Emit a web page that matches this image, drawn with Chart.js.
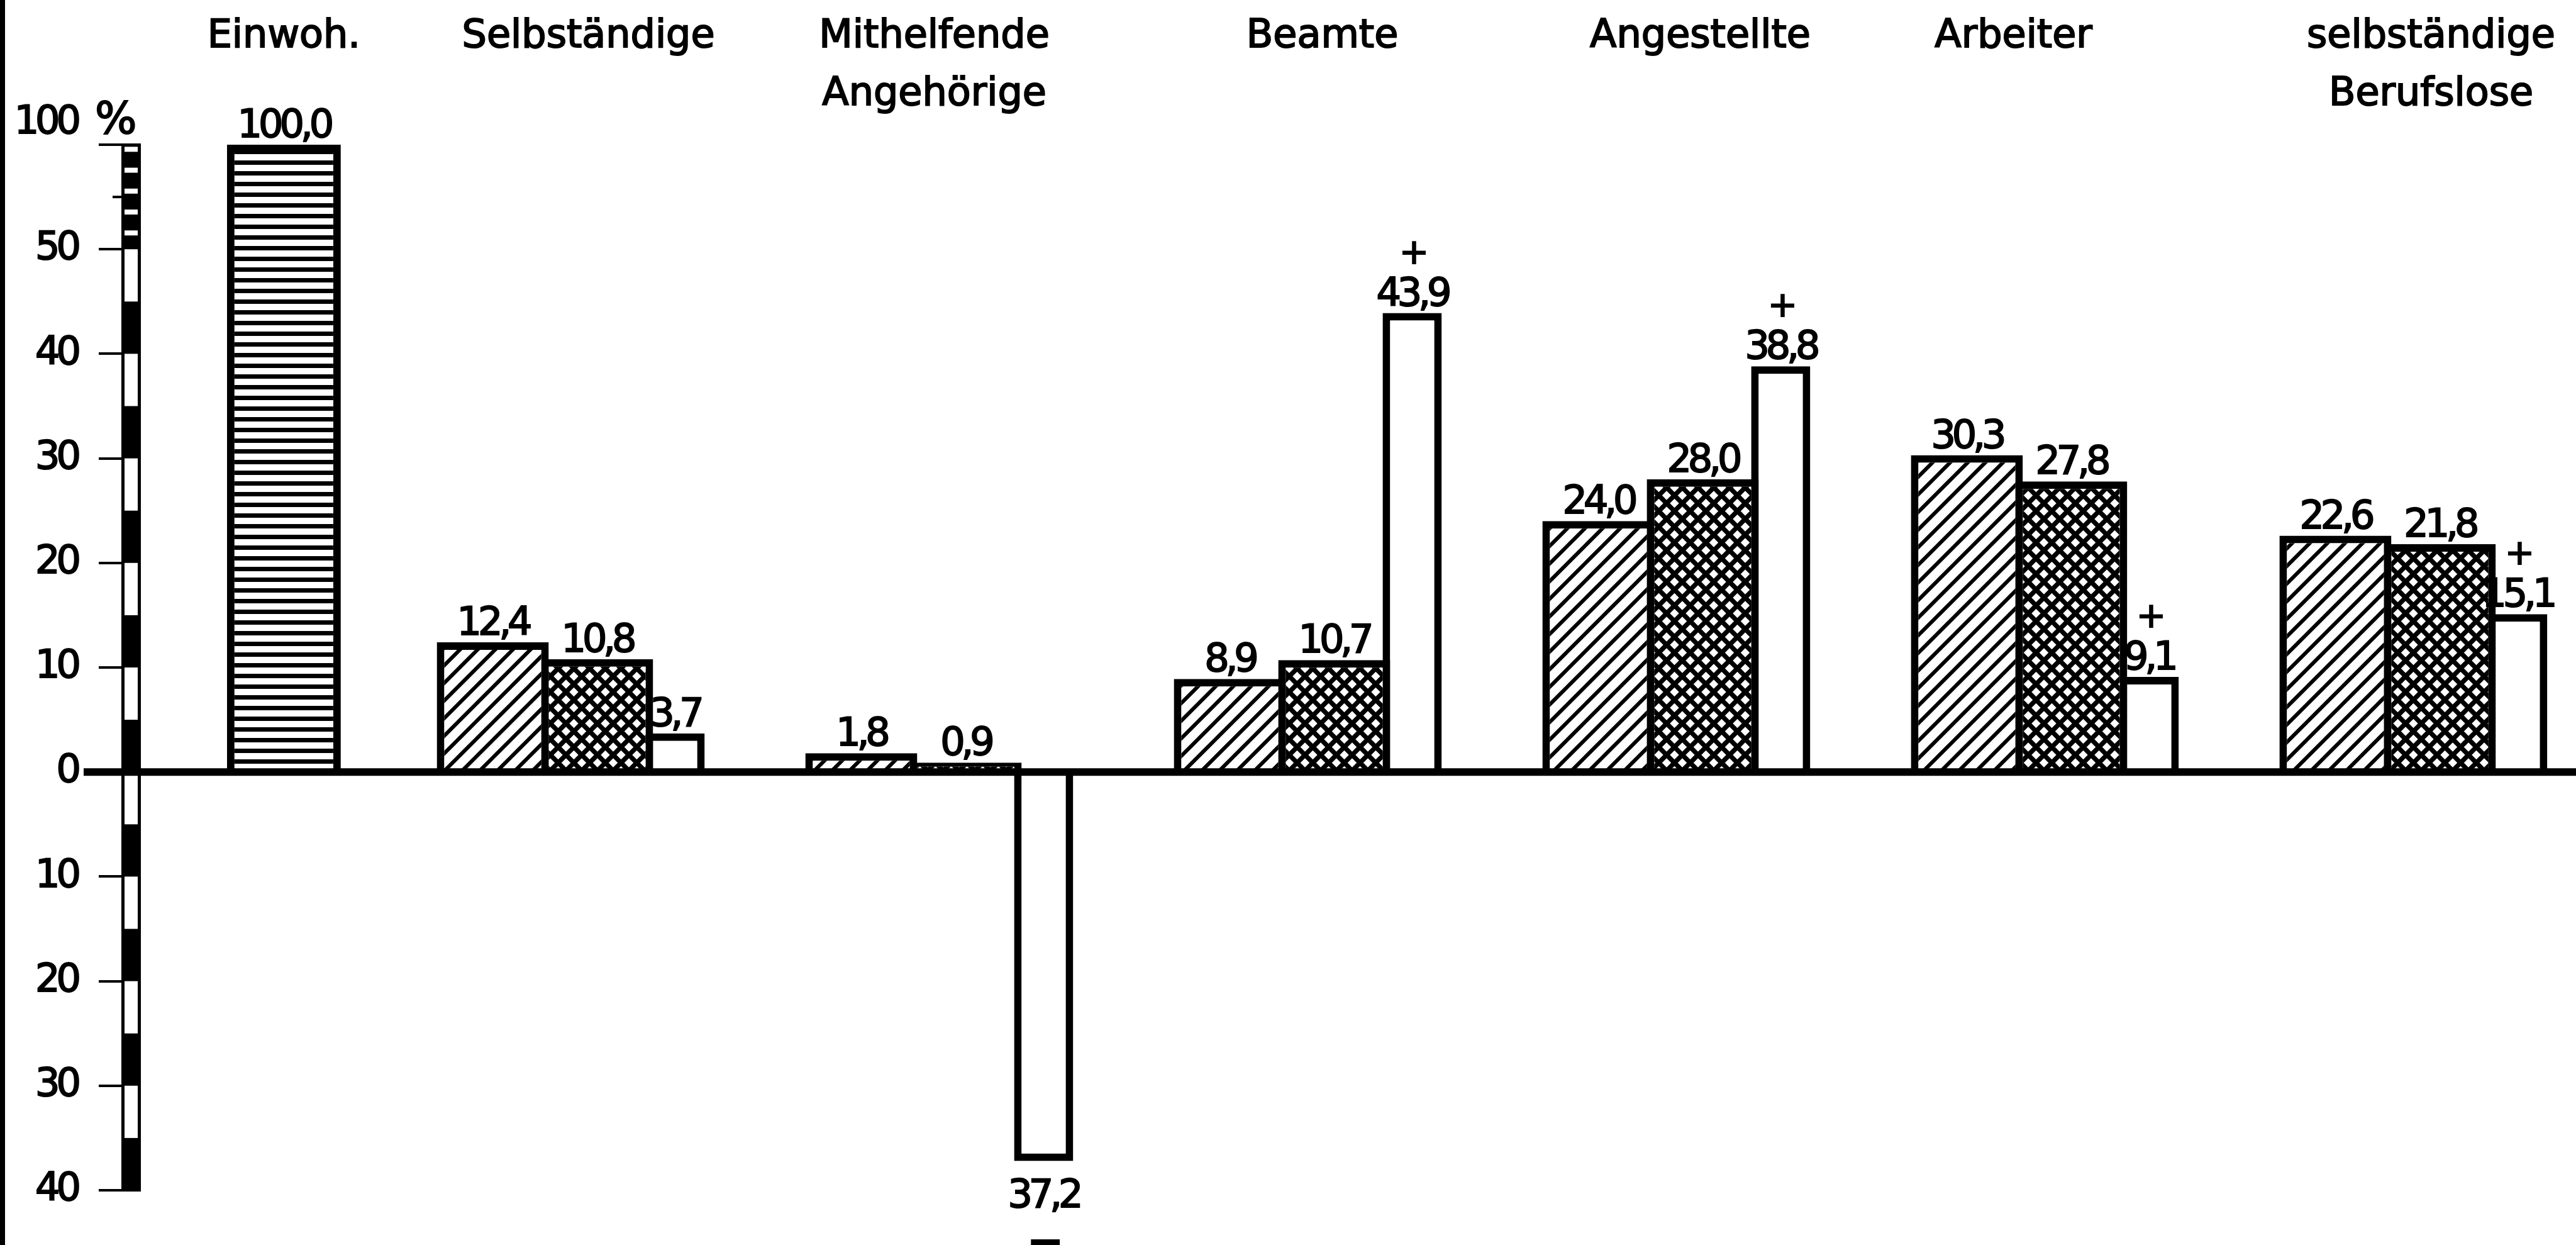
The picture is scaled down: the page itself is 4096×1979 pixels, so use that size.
<!DOCTYPE html>
<html>
<head>
<meta charset="utf-8">
<title>Erwerbspersonen</title>
<script src="https://cdn.jsdelivr.net/npm/chart.js@4.4.1/dist/chart.umd.min.js"></script>
<style>
    html, body { margin: 0; padding: 0; background: #fff; overflow: hidden; }
    canvas { display: block; }
</style>
</head>
<body>
<canvas id="chart" width="4096" height="1979"></canvas>
<script>
// category headings along the top
let categories = [['Einwoh.'], ['Selbständige'], ['Mithelfende', 'Angehörige'], ['Beamte'], ['Angestellte'], ['Arbeiter'], ['selbständige', 'Berufslose']];

// Einwohner (one bar), then per group: hatched, cross-hatched and open bar
let einwohner = [100.0];
let hatched = [12.4, 1.8, 8.9, 24.0, 30.3, 22.6];
let crossed = [10.8, 0.9, 10.7, 28.0, 27.8, 21.8];
let change = [3.7, -37.2, 43.9, 38.8, 9.1, 15.1];
// sign printed next to the open bar
let signs = ['', '\u2212', '+', '+', '+', '+'];

// left scale (50..100 is squeezed into one step)
let yTicks = [100, 50, 40, 30, 20, 10, 0, -10, -20, -30, -40];

let toAxis = v => v > 50 ? 50 + (v - 50) / 5 : v;
let fromAxis = v => v > 50 ? 50 + (v - 50) * 5 : v;

// layout: x axis counts in group steps, group k starts at x = k
let groupPx = 586.1;
let barW = 178, openW = 94, einW = 181, bw = 12;
let off = [barW / 2, barW * 1.5 - bw, barW * 2 - bw * 2 + openW / 2].map(p => p / groupPx);
let einX = 0.585;
let labelOff = 0.367;
let labelNudge = [0, 26, -10, 21, 36, -52, 26];   // px, headings are not quite centred

let ctx = document.getElementById('chart').getContext('2d');

function stripes() {
    let c = document.createElement('canvas');
    c.width = 8; c.height = 17;
    let g = c.getContext('2d');
    g.fillStyle = '#fff'; g.fillRect(0, 0, 8, 17);
    g.fillStyle = '#000'; g.fillRect(0, 0, 8, 7);
    return ctx.createPattern(c, 'repeat');
}

function hatch(p, lw, cross) {
    let c = document.createElement('canvas');
    c.width = p; c.height = p;
    let g = c.getContext('2d');
    g.fillStyle = '#fff'; g.fillRect(0, 0, p, p);
    g.strokeStyle = '#000';
    g.lineWidth = lw;
    g.beginPath();
    for (let k = -1; k <= 1; k++) {
        g.moveTo(k * p - 2, p + 2); g.lineTo(k * p + p + 2, -2);
        if (cross) { g.moveTo(k * p - 2, -2); g.lineTo(k * p + p + 2, p + 2); }
    }
    g.stroke();
    return ctx.createPattern(c, 'repeat');
}

let sources = [einwohner, hatched, crossed, change];

function label(c, txt, x, y) {
    c.strokeText(txt, x, y);
    c.fillText(txt, x, y);
}

let extras = {
    id: 'extras',
    beforeDraw(chart) {
        chart.ctx.letterSpacing = '-6px';
    },
    afterDatasetsDraw(chart) {
        let c = chart.ctx;
        let y = chart.scales.y;
        let right = y.right;
        let zero = y.getPixelForValue(0);
        let py = v => y.getPixelForValue(toAxis(v));

        // black/white scale bar
        let bx = right - 31, bwid = 31, ins = 5;
        c.fillStyle = '#000';
        c.fillRect(bx, py(100), bwid, py(-40) - py(100));
        c.fillStyle = '#fff';
        for (let lo = -40; lo < 50; lo += 5) {
            if (Math.abs(lo / 5) % 2 === 1) {
                c.fillRect(bx + ins, py(lo + 5), bwid - 2 * ins, py(lo) - py(lo + 5));
            }
        }
        for (let t = 100; t > 50; t -= 10) {
            c.fillRect(bx + ins, py(t - 1), bwid - 2 * ins, py(t - 3.4) - py(t - 1));
        }
        c.fillStyle = '#000';
        c.fillRect(right - 45, py(75) - 2, 14, 4);

        // zero line
        c.fillRect(right - 91, zero - 6, chart.width - right + 91, 12);

        // value labels
        c.font = '62px "DejaVu Sans"';
        c.strokeStyle = '#000';
        c.lineWidth = 2;
        c.textAlign = 'center';
        c.textBaseline = 'alphabetic';
        sources.forEach((src, di) => {
            let meta = chart.getDatasetMeta(di);
            meta.data.forEach((bar, i) => {
                let v = src[i];
                let txt = Math.abs(v).toFixed(1).replace('.', ',');
                let sign = di === 3 ? signs[i] : '';
                if (v >= 0) {
                    let base = bar.y - 12;
                    label(c, txt, bar.x, base);
                    if (sign) {
                        c.font = '56px "DejaVu Sans"';
                        label(c, sign, bar.x, base - 67);
                        c.font = '62px "DejaVu Sans"';
                    }
                } else {
                    let base = bar.y + 74;
                    label(c, txt, bar.x, base);
                    if (sign) {
                        c.font = 'bold 70px "DejaVu Sans"';
                        label(c, sign, bar.x, base + 78);
                        c.font = '62px "DejaVu Sans"';
                    }
                }
            });
        });

        // top of the scale: 100 %
        let top = y.getPixelForValue(toAxis(100)) - 18;
        c.textAlign = 'right';
        label(c, '100', right - 101, top);
        c.textAlign = 'left';
        c.letterSpacing = '0px';
        c.font = '70px "DejaVu Sans"';
        label(c, '%', right - 73, top);
    },
    afterDraw(chart) {
        chart.ctx.fillStyle = '#000';
        chart.ctx.fillRect(0, 0, 8, chart.height);
    }
};

Chart.defaults.font.family = '"DejaVu Sans"';
Chart.defaults.color = '#000';

let barBase = {
    type: 'bar',
    grouped: false,
    borderColor: '#000',
    borderWidth: bw,
    borderSkipped: 'start',
    inflateAmount: 0
};

let chart = new Chart(ctx, {
    type: 'bar',
    data: {
        datasets: [
            Object.assign({}, barBase, {
                label: 'Einwohner',
                data: einwohner.map(v => ({x: einX, y: toAxis(v)})),
                backgroundColor: stripes(),
                barThickness: einW
            }),
            Object.assign({}, barBase, {
                label: 'hatched',
                data: hatched.map((v, i) => ({x: i + 1 + off[0], y: toAxis(v)})),
                backgroundColor: hatch(28, 6, false),
                barThickness: barW
            }),
            Object.assign({}, barBase, {
                label: 'crossed',
                data: crossed.map((v, i) => ({x: i + 1 + off[1], y: toAxis(v)})),
                backgroundColor: hatch(25, 7.5, true),
                barThickness: barW
            }),
            Object.assign({}, barBase, {
                label: 'change',
                data: change.map((v, i) => ({x: i + 1 + off[2], y: toAxis(v)})),
                backgroundColor: '#fff',
                barThickness: openW
            })
        ]
    },
    options: {
        responsive: false,
        animation: false,
        events: [],
        layout: { padding: { bottom: 87 } },
        plugins: {
            legend: { display: false },
            tooltip: { enabled: false }
        },
        scales: {
            x: {
                type: 'linear',
                position: 'top',
                offset: false,
                min: 0.197,
                max: 6.804,
                grid: { display: false, drawTicks: false },
                border: { display: false },
                afterFit: s => { s.height = 230; },
                afterBuildTicks: s => {
                    let pos = [einX].concat(categories.slice(1).map((c, i) => i + 1 + labelOff));
                    s.ticks = pos.map((v, i) => ({value: v + labelNudge[i] / groupPx}));
                },
                ticks: {
                    z: 1,
                    autoSkip: false,
                    maxRotation: 0,
                    minRotation: 0,
                    padding: 33,
                    crossAlign: 'far',
                    textStrokeColor: '#000',
                    textStrokeWidth: 2,
                    font: { size: 62, lineHeight: 1.484 },
                    callback: (v, i) => categories[i]
                }
            },
            y: {
                type: 'linear',
                min: toAxis(-40),
                max: toAxis(100),
                grid: { drawOnChartArea: false, color: '#000', lineWidth: 4, tickLength: 67 },
                border: { display: false },
                afterFit: s => { s.width = 224; },
                afterBuildTicks: s => {
                    s.ticks = yTicks.map(v => ({value: toAxis(v)}));
                },
                ticks: {
                    padding: 34,
                    textStrokeColor: '#000',
                    textStrokeWidth: 2,
                    font: { size: 62 },
                    callback: v => {
                        let r = fromAxis(v);
                        return r === 100 ? '' : String(Math.abs(r));
                    }
                }
            }
        }
    },
    plugins: [extras]
});
</script>
</body>
</html>
